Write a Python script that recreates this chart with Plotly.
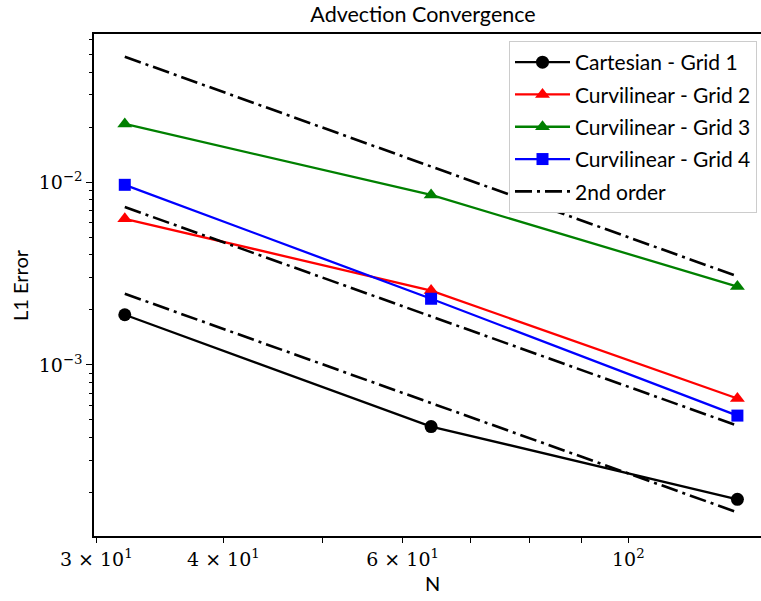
import plotly.graph_objects as go

# ---- data ----
N = [32, 64, 128]
cartesian_g1 = [1.88e-3, 4.6e-4, 1.84e-4]
curvi_g2 = [6.3e-3, 2.55e-3, 6.55e-4]
curvi_g3 = [2.08e-2, 8.5e-3, 2.68e-3]
curvi_g4 = [9.66e-3, 2.30e-3, 5.28e-4]

N_ref = [32, 128]
order2_top = [4.85e-2, 3.05e-3]
order2_mid = [7.3e-3, 4.65e-4]
order2_bot = [2.45e-3, 1.56e-4]

x_ticks = [30, 40, 60, 100]
x_ticktext = ["3 × 10<sup>1</sup>", "4 × 10<sup>1</sup>", "6 × 10<sup>1</sup>", "10<sup>2</sup>"]
x_minor = [50, 70, 80, 90]
y_ticks = [1e-3, 1e-2]
y_ticktext = ["10<sup>−3</sup>", "10<sup>−2</sup>"]
y_minor = [k * 10.0 ** e for e in (-4, -3, -2) for k in range(2, 10)]

SANS = "Lato, 'DejaVu Sans', sans-serif"
SERIF = "'DejaVu Serif', 'Liberation Serif', serif"

fig = go.Figure()

series = [
    ("Cartesian - Grid 1", cartesian_g1, "black", "circle"),
    ("Curvilinear - Grid 2", curvi_g2, "#ff0000", "triangle-up"),
    ("Curvilinear - Grid 3", curvi_g3, "#008000", "triangle-up"),
    ("Curvilinear - Grid 4", curvi_g4, "#0000ff", "square"),
]
for i, (name, vals, col, sym) in enumerate(series):
    fig.add_trace(go.Scatter(
        x=N, y=vals, name=name, mode="lines+markers",
        line=dict(color=col, width=2.3),
        marker=dict(color=col, symbol=sym, size=13 if sym != "square" else 12),
        legendgroup=f"g{i}",
    ))

for j, vals in enumerate([order2_top, order2_mid, order2_bot]):
    fig.add_trace(go.Scatter(
        x=N_ref, y=vals, name="2nd order", mode="lines",
        line=dict(color="black", width=2.6, dash="17px,5px,3px,5px"),
        legendgroup="ord", showlegend=(j == 0),
    ))

W, H = 761, 601
L, R, T, B = 94, 0, 34, 65

fig.update_layout(
    width=W, height=H, autosize=False,
    margin=dict(l=L, r=R, t=T, b=B, pad=0, autoexpand=False),
    paper_bgcolor="white", plot_bgcolor="white",
    title=dict(text="Advection Convergence", font=dict(family=SANS, size=21.5, color="black"),
               xref="paper", x=(423 - L) / (W - L), xanchor="center",
               yref="container", y=1 - 14 / H, yanchor="middle", automargin=False),
    legend=dict(x=(757 - L) / (W - L), xanchor="right", y=1 - (41 - T) / (H - T - B), yanchor="top",
                bgcolor="white", bordercolor="#cccccc", borderwidth=1,
                font=dict(family=SANS, size=21, color="black"),
                tracegroupgap=2, itemwidth=55),
    showlegend=True,
)

fig.update_xaxes(
    type="log", range=[1.4749, 2.1304], automargin=False,
    showgrid=False, zeroline=False,
    showline=True, linecolor="black", linewidth=1.5, mirror=True,
    ticks="outside", ticklen=5, tickwidth=1.2, tickcolor="black",
    tickvals=x_ticks, ticktext=x_ticktext,
    tickfont=dict(family=SERIF, size=19, color="black"),
    minor=dict(ticks="outside", ticklen=5, tickwidth=1.2, tickcolor="black", tickvals=x_minor, showgrid=False),
)
fig.update_yaxes(
    type="log", range=[-3.936, -1.190], automargin=False,
    showgrid=False, zeroline=False,
    showline=True, linecolor="black", linewidth=1.5, mirror=False,
    ticks="outside", ticklen=6, tickwidth=1.2, tickcolor="black",
    tickvals=y_ticks, ticktext=y_ticktext,
    tickfont=dict(family=SERIF, size=19, color="black"),
    minor=dict(ticks="outside", ticklen=3.5, tickwidth=1, tickcolor="black", tickvals=y_minor, showgrid=False),
)

fig.add_annotation(text="N", xref="paper", yref="paper", x=(432 - L) / (W - L), y=(H - B - 583) / (H - T - B),
                   xanchor="center", yanchor="middle", showarrow=False,
                   font=dict(family=SANS, size=20, color="black"))
fig.add_annotation(text="L1 Error", xref="paper", yref="paper", x=(20 - L) / (W - L), y=0.5,
                   xanchor="center", yanchor="middle", showarrow=False, textangle=-90,
                   font=dict(family=SANS, size=20, color="black"))

fig.write_html("out.html", config={"displayModeBar": False},
               post_script="document.body.style.margin='0';document.body.style.overflow='hidden';")
